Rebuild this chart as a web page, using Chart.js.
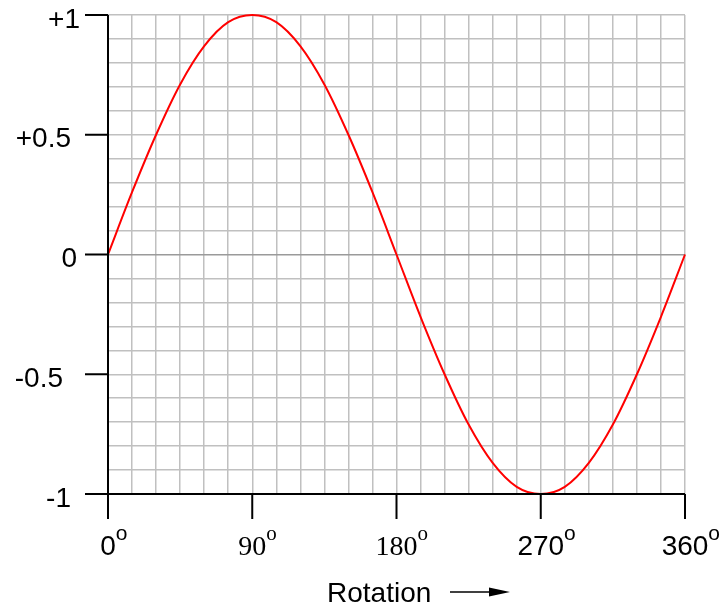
<!DOCTYPE html>
<html>
<head>
<meta charset="utf-8">
<script src="https://cdn.jsdelivr.net/npm/chart.js@4"></script>
<style>
  html, body { margin: 0; padding: 0; background: #fff; }
  #wrap { width: 725px; height: 611px; }
</style>
</head>
<body>
<div id="wrap"><canvas id="sine"></canvas></div>
<script>
// rotation in degrees, read every 15 degrees along the grid
const degrees = [0, 15, 30, 45, 60, 75, 90, 105, 120, 135, 150, 165, 180,
                 195, 210, 225, 240, 255, 270, 285, 300, 315, 330, 345, 360];
const amplitude = [0, 0.26, 0.5, 0.71, 0.87, 0.97, 1, 0.97, 0.87, 0.71, 0.5, 0.26, 0,
                   -0.26, -0.5, -0.71, -0.87, -0.97, -1, -0.97, -0.87, -0.71, -0.5, -0.26, 0];

const yTickValues = [1, 0.5, 0, -0.5, -1];
const yTickLabels = ['+1', '+0.5', '0', '-0.5', '-1'];
const xTickValues = [0, 90, 180, 270, 360];
const xTickLabels = ['0', '90', '180', '270', '360'];
const axisTitle = 'Rotation';

const sans = '"Liberation Sans", Arial, sans-serif';
const serif = '"Liberation Serif", "Times New Roman", serif';
const xTickFonts = [sans, serif, serif, sans, sans];
// gap between label's right edge and the axis, like the original drawing
const yLabelGap = [28, 37, 31, 45, 37];

const axesPlugin = {
    id: 'axes',
    afterDraw(chart) {
        const ctx = chart.ctx;
        const xs = chart.scales.x, ys = chart.scales.y;
        const left = xs.getPixelForValue(0), right = xs.getPixelForValue(360);
        const top = ys.getPixelForValue(1), bottom = ys.getPixelForValue(-1);
        ctx.save();
        ctx.strokeStyle = '#000';
        ctx.lineWidth = 2;
        ctx.beginPath();
        ctx.moveTo(left, top); ctx.lineTo(left, bottom);
        ctx.moveTo(left, bottom); ctx.lineTo(right, bottom);
        yTickValues.forEach(v => {
            const y = ys.getPixelForValue(v);
            ctx.moveTo(left - 23, y); ctx.lineTo(left, y);
        });
        xTickValues.forEach(v => {
            const x = xs.getPixelForValue(v);
            ctx.moveTo(x, bottom); ctx.lineTo(x, bottom + 25);
        });
        ctx.stroke();

        // y labels
        ctx.fillStyle = '#000';
        ctx.font = '28px ' + sans;
        ctx.textAlign = 'right';
        ctx.textBaseline = 'alphabetic';
        yTickLabels.forEach((t, i) => {
            const y = ys.getPixelForValue(yTickValues[i]);
            ctx.fillText(t, left - yLabelGap[i], y + 12.5);
        });

        // x labels with degree superscript
        xTickLabels.forEach((t, i) => {
            const x = xs.getPixelForValue(xTickValues[i]);
            ctx.font = '28px ' + xTickFonts[i];
            ctx.textAlign = 'center';
            ctx.fillText(t, x, bottom + 61);
            const w = ctx.measureText(t).width;
            ctx.font = '21px ' + xTickFonts[i];
            ctx.textAlign = 'left';
            ctx.fillText('o', x + w / 2, bottom + 46);
        });

        // axis title with arrow
        ctx.font = '28px ' + sans;
        ctx.textAlign = 'left';
        ctx.fillText(axisTitle, 327, 602);
        ctx.lineWidth = 1.5;
        ctx.beginPath();
        ctx.moveTo(450, 592); ctx.lineTo(495, 592);
        ctx.stroke();
        ctx.beginPath();
        ctx.moveTo(510, 592); ctx.lineTo(489, 587.5); ctx.lineTo(489, 596.5);
        ctx.closePath();
        ctx.fill();
        ctx.restore();
    }
};

new Chart(document.getElementById('sine'), {
    type: 'line',
    data: {
        labels: degrees,
        datasets: [{
            data: degrees.map((d, i) => ({ x: d, y: amplitude[i] })),
            borderColor: '#ff0000',
            borderWidth: 2,
            pointRadius: 0,
            cubicInterpolationMode: 'monotone',
            clip: 5
        }]
    },
    options: {
        responsive: true,
        maintainAspectRatio: false,
        animation: false,
        layout: { padding: { left: 108, right: 40, top: 15, bottom: 117 } },
        plugins: { legend: { display: false }, tooltip: { enabled: false } },
        scales: {
            x: {
                type: 'linear', min: 0, max: 360,
                ticks: { display: false, stepSize: 15 },
                border: { display: false },
                grid: { color: '#c0c0c0', lineWidth: 1.5, drawTicks: false }
            },
            y: {
                min: -1, max: 1,
                ticks: { display: false, stepSize: 0.1 },
                border: { display: false },
                grid: {
                    color: c => (c.tick && Math.abs(c.tick.value) < 1e-9) ? '#9a9a9a' : '#c0c0c0',
                    lineWidth: 1.5, drawTicks: false
                }
            }
        }
    },
    plugins: [axesPlugin]
});
</script>
</body>
</html>
